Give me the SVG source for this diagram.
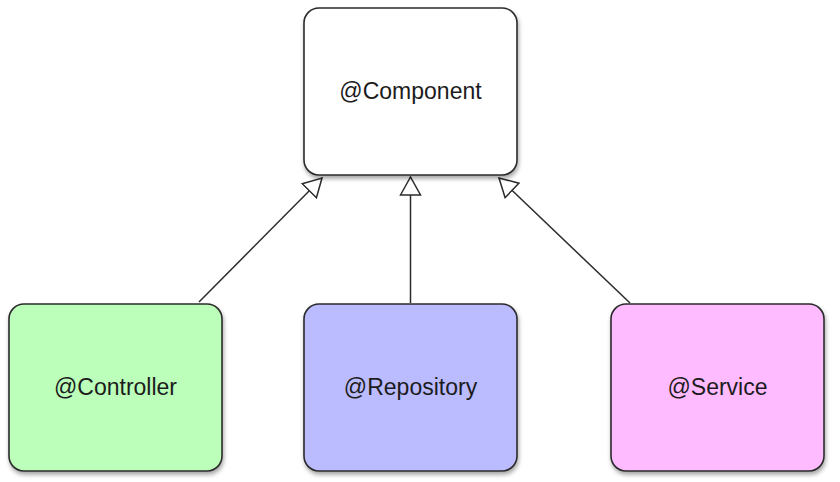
<svg xmlns="http://www.w3.org/2000/svg" width="840" height="482" viewBox="0 0 840 482">
<style>
.box{stroke:#2b2b2b;stroke-width:1.6;filter:url(#sh)}
.lbl{font-family:"Liberation Sans",Arial,sans-serif;font-size:23px;fill:#1c1c1c;text-anchor:middle}
.conn{stroke:#2b2b2b;stroke-width:1.5;fill:none;marker-end:url(#tri)}
</style>
<defs>
<filter id="sh" x="-10%" y="-10%" width="125%" height="125%">
<feDropShadow dx="1" dy="3" stdDeviation="2" flood-color="#000" flood-opacity="0.35"/>
</filter>
<marker id="tri" markerUnits="userSpaceOnUse" markerWidth="22" markerHeight="24" refX="19" refY="11" orient="auto" viewBox="0 0 22 22">
<path d="M1,1 L19,11 L1,21 Z" fill="#fff" stroke="#2b2b2b" stroke-width="1.5" stroke-linejoin="miter"/>
</marker>
</defs>
<rect width="840" height="482" fill="#fff"/>
<g id="connectors">
<line class="conn" x1="199" y1="302" x2="322" y2="178"/>
<line class="conn" x1="410.5" y1="303" x2="410.5" y2="177"/>
<line class="conn" x1="630" y1="303" x2="499" y2="178"/>
</g>
<g id="component">
<rect class="box" x="304" y="8" width="213" height="167" rx="15" fill="#fff"/>
<text class="lbl" x="410.5" y="99">@Component</text>
</g>
<g id="controller">
<rect class="box" x="9" y="304" width="213" height="167" rx="15" fill="#bbffbb"/>
<text class="lbl" x="115.5" y="395">@Controller</text>
</g>
<g id="repository">
<rect class="box" x="304" y="304" width="213" height="167" rx="15" fill="#bbbbff"/>
<text class="lbl" x="410.5" y="395">@Repository</text>
</g>
<g id="service">
<rect class="box" x="611" y="304" width="213" height="167" rx="15" fill="#ffbbff"/>
<text class="lbl" x="717.5" y="395">@Service</text>
</g>
</svg>
